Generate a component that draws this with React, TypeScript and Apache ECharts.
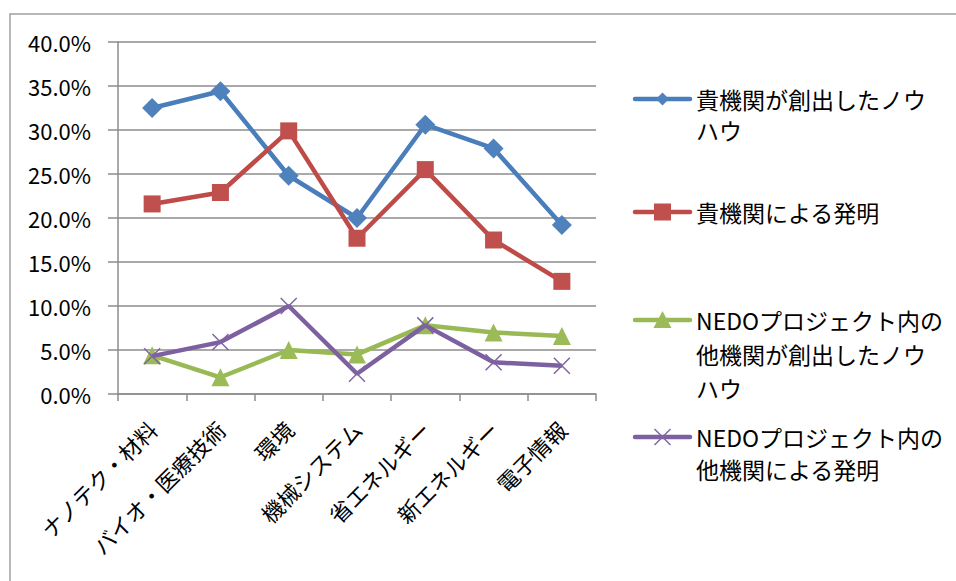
import React, { useEffect, useRef } from "react";
import * as echarts from "echarts";

const categories = ["ナノテク・材料", "バイオ・医療技術", "環境", "機械システム", "省エネルギー", "新エネルギー", "電子情報"];
const seriesNames = [
  "貴機関が創出したノウハウ",
  "貴機関による発明",
  "NEDOプロジェクト内の他機関が創出したノウハウ",
  "NEDOプロジェクト内の他機関による発明",
];
const ownKnowhow = [32.5, 34.4, 24.8, 20.0, 30.6, 27.9, 19.2];
const ownInvention = [21.6, 22.9, 29.9, 17.7, 25.5, 17.5, 12.8];
const otherKnowhow = [4.4, 1.9, 5.0, 4.5, 7.8, 7.0, 6.6];
const otherInvention = [4.3, 5.9, 10.0, 2.3, 7.8, 3.6, 3.2];
const yTicks = [0, 5, 10, 15, 20, 25, 30, 35, 40];
const legendLines = [
  ["貴機関が創出したノウ", "ハウ"],
  ["貴機関による発明"],
  ["NEDOプロジェクト内の", "他機関が創出したノウ", "ハウ"],
  ["NEDOプロジェクト内の", "他機関による発明"],
];

const FONT = '"Noto Sans CJK JP", "Noto Sans", sans-serif';
const lineColors = ["#4A7EBB", "#BE4B48", "#98B954", "#7D60A0"];
const markColors = ["#4F81BD", "#C0504D", "#9BBB59", "#8064A2"];
const GRID = "#8C8C8C";

export default function App() {
  const ref = useRef<HTMLDivElement>(null);
  useEffect(() => {
    if (!ref.current) return;
    const chart = echarts.init(ref.current, null, { renderer: "svg" });
    const data = [ownKnowhow, ownInvention, otherKnowhow, otherInvention];
    const symbols = ["diamond", "rect", "triangle", "path://M0,0L10,10M10,0L0,10"];
    const sizes = [20, 17, 18, 16];

    const series = data.map((vals, i) => ({
      name: seriesNames[i],
      type: "line",
      data: vals.map((v) => v / 100),
      symbol: symbols[i],
      symbolSize: sizes[i],
      showAllSymbol: true,
      lineStyle: { color: lineColors[i], width: 4.5 },
      itemStyle:
        i === 3
          ? { color: "rgba(0,0,0,0)", borderColor: markColors[i], borderWidth: 1.5 }
          : { color: markColors[i], borderColor: markColors[i], borderWidth: 0 },
      emphasis: { disabled: true },
      z: 2 + i,
    }));

    // custom legend
    const legendFirstY = [99, 212, 320, 437];
    const lineGaps = [31, 31, 34, 31.5];
    const lx1 = 635, lx2 = 690, cx = 662.5, tx = 696;
    const graphics: any[] = [
      {
        type: "rect",
        shape: { x: 10, y: 14, width: 1000, height: 1000 },
        style: { fill: "none", stroke: "#A0A0A0", lineWidth: 1.5 },
        silent: true,
        z: 0,
      },
    ];
    legendFirstY.forEach((y, i) => {
      graphics.push({
        type: "line",
        shape: { x1: lx1, y1: y, x2: lx2, y2: y },
        style: { stroke: lineColors[i], lineWidth: 4.5, lineCap: "round" },
      });
      if (i === 0) {
        const s = 6.5;
        graphics.push({
          type: "polygon",
          shape: { points: [[cx, y - s], [cx + s, y], [cx, y + s], [cx - s, y]] },
          style: { fill: markColors[i] },
        });
      } else if (i === 1) {
        graphics.push({
          type: "rect",
          shape: { x: cx - 8.5, y: y - 8.5, width: 17, height: 17 },
          style: { fill: markColors[i] },
        });
      } else if (i === 2) {
        graphics.push({
          type: "polygon",
          shape: { points: [[cx, y - 9], [cx + 9, y + 8], [cx - 9, y + 8]] },
          style: { fill: markColors[i] },
        });
      } else {
        const s = 8;
        graphics.push({
          type: "line",
          shape: { x1: cx - s, y1: y - s, x2: cx + s, y2: y + s },
          style: { stroke: markColors[i], lineWidth: 1.5 },
        });
        graphics.push({
          type: "line",
          shape: { x1: cx + s, y1: y - s, x2: cx - s, y2: y + s },
          style: { stroke: markColors[i], lineWidth: 1.5 },
        });
      }
      legendLines[i].forEach((t, k) => {
        graphics.push({
          type: "text",
          x: tx,
          y: y + k * lineGaps[i],
          style: {
            text: t,
            fill: "#000",
            font: `23px ${FONT}`,
            fontSize: 23,
            fontFamily: FONT,
            textAlign: "left",
            textVerticalAlign: "middle",
            verticalAlign: "middle",
          },
        });
      });
    });

    chart.setOption({
      animation: false,
      backgroundColor: "#fff",
      textStyle: { fontFamily: FONT },
      grid: { left: 118, top: 42, right: 956 - 596, bottom: 581 - 394, containLabel: false },
      xAxis: {
        type: "category",
        data: categories,
        boundaryGap: true,
        axisLine: { show: true, lineStyle: { color: GRID, width: 1.5 } },
        axisTick: { show: true, length: 7, lineStyle: { color: GRID, width: 1.5 } },
        axisLabel: {
          rotate: 45,
          interval: 0,
          margin: 31,
          color: "#000",
          fontSize: 22,
          fontFamily: FONT,
        },
        splitLine: { show: false },
      },
      yAxis: {
        type: "value",
        min: yTicks[0] / 100,
        max: yTicks[yTicks.length - 1] / 100,
        interval: (yTicks[1] - yTicks[0]) / 100,
        axisLine: { show: true, lineStyle: { color: GRID, width: 1.5 } },
        axisTick: { show: true, length: 10, lineStyle: { color: GRID, width: 1.5 } },
        axisLabel: {
          margin: 27,
          color: "#000",
          fontSize: 22,
          fontFamily: FONT,
          formatter: (v: number) => (v * 100).toFixed(1) + "%",
        },
        splitLine: { show: true, lineStyle: { color: GRID, width: 1.5 } },
      },
      series,
      graphic: graphics,
    });
    return () => chart.dispose();
  }, []);
  return (
    <div
      ref={ref}
      style={{ position: "absolute", left: 0, top: 0, width: 956, height: 581, background: "#fff" }}
    />
  );
}
